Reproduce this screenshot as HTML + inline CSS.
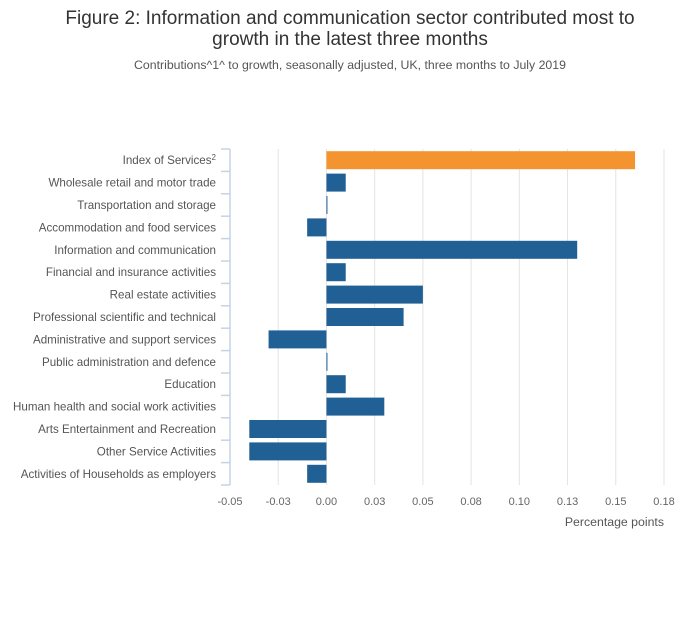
<!DOCTYPE html>
<html><head><meta charset="utf-8"><style>
body{margin:0;background:#fff;font-family:"Liberation Sans",sans-serif;}
svg text{font-family:"Liberation Sans",sans-serif;}
</style></head><body>
<svg width="700" height="635" xmlns="http://www.w3.org/2000/svg">
<text x="350" y="24" text-anchor="middle" font-size="19" fill="#333">Figure 2: Information and communication sector contributed most to</text>
<text x="350" y="45" text-anchor="middle" font-size="19" fill="#333">growth in the latest three months</text>
<text x="350" y="69" text-anchor="middle" font-size="12.3" fill="#555">Contributions^1^ to growth, seasonally adjusted, UK, three months to July 2019</text>
<g id="grid"></g><g id="bars"></g><g id="cats"></g><g id="xt"></g>
<text x="664" y="526" text-anchor="end" font-size="12.3" fill="#555">Percentage points</text>
</svg>
<script>
const categories=["Index of Services","Wholesale retail and motor trade","Transportation and storage","Accommodation and food services","Information and communication","Financial and insurance activities","Real estate activities","Professional scientific and technical","Administrative and support services","Public administration and defence","Education","Human health and social work activities","Arts Entertainment and Recreation","Other Service Activities","Activities of Households as employers"];
const values=[0.160,0.010,0.0005,-0.010,0.130,0.010,0.050,0.040,-0.030,0.0004,0.010,0.030,-0.040,-0.040,-0.010];
const tickValues=[-0.05,-0.025,0,0.025,0.05,0.075,0.1,0.125,0.15,0.175];
const tickLabels=["-0.05","-0.03","0.00","0.03","0.05","0.08","0.10","0.13","0.15","0.18"];
const NS="http://www.w3.org/2000/svg";
const x0=230,x1=664,vmin=-0.05,vmax=0.175,yTop=149,yBot=485;
const X=v=>x0+(v-vmin)/(vmax-vmin)*(x1-x0);
const band=(yBot-yTop)/categories.length;
function mk(t,a,p){const e=document.createElementNS(NS,t);for(const k in a)e.setAttribute(k,a[k]);p.appendChild(e);return e;}
const grid=document.getElementById('grid'),bars=document.getElementById('bars'),cats=document.getElementById('cats'),xt=document.getElementById('xt');
tickValues.forEach((v,i)=>{
 if(i>0){const g=mk('line',{x1:X(v),x2:X(v),y1:yTop,y2:yBot,stroke:'#e3e3e3','stroke-width':1},grid);
 
 }
 const t=mk('text',{x:X(v),y:505,'text-anchor':'middle','font-size':11,fill:'#666'},xt);t.textContent=tickLabels[i];
 
 
});
const ax=mk('line',{x1:x0,x2:x0,y1:yTop,y2:yBot,stroke:'#c5d3e6','stroke-width':1.5},grid);


for(let i=0;i<=categories.length;i++){const y=yTop+i*band;const tk=mk('line',{x1:221,x2:x0,y1:y,y2:y,stroke:'#c5d3e6','stroke-width':1.5},grid);
 
 }
categories.forEach((c,i)=>{
 const cy=yTop+(i+0.5)*band,v=values[i];
 const xa=Math.min(X(0),X(v)),w=Math.max(Math.abs(X(v)-X(0)),1);
 const r=mk('rect',{x:xa,y:cy-9,width:w,height:18,fill:i==0?'#f39431':'#206095'},bars);
 
 
 const t=mk('text',{x:216,y:cy+4,'text-anchor':'end','font-size':11.6,fill:'#555'},cats);
 t.textContent=c;
 if(i==0){const s=mk('tspan',{'font-size':8,dy:-4},t);s.textContent='2';}
 
 
});
</script>
</body></html>
